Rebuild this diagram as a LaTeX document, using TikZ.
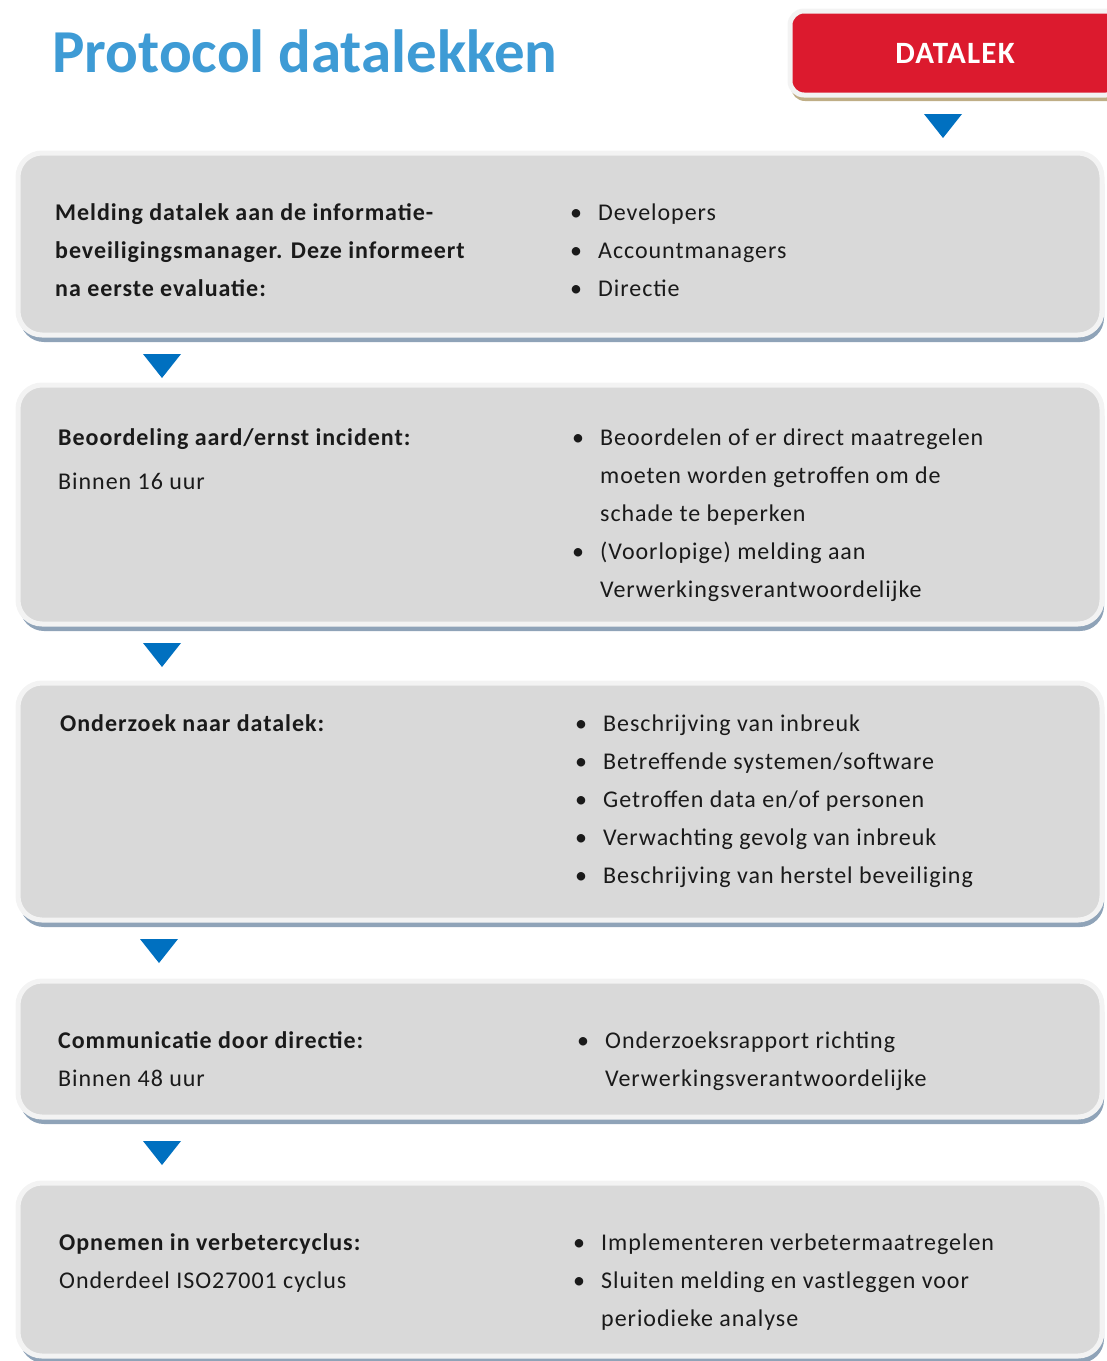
\documentclass[tikz,border=0pt]{standalone}
\usepackage{fontspec}
\setmainfont{Carlito}[LetterSpace=4]
\newfontfamily\titelfont{Carlito}
\usetikzlibrary{calc}
\usetikzlibrary{shadows}
\definecolor{titelblauw}{RGB}{62,155,213}
\definecolor{pijlblauw}{RGB}{0,112,192}
\definecolor{vakgrijs}{RGB}{217,217,217}
\definecolor{randgrijs}{RGB}{243,243,243}
\definecolor{schaduw}{RGB}{143,163,184}
\definecolor{lekrood}{RGB}{220,26,46}
\definecolor{lekrand}{RGB}{191,174,134}
\definecolor{tekst}{RGB}{26,26,26}
\newcommand*{\bx  }{560}
\newcommand*{\bw  }{1084pt}
\newcommand*{\sz  }{\fontsize{24}{38}\selectfont}
\newcommand*{\bol }{\makebox[28pt][l]{\textbullet}}
\newcommand*{\insp}{\hspace*{28pt}}

\begin{document}
\begin{tikzpicture}[x=1pt, y=-1pt,
    vak/.style={draw=randgrijs, line width=5pt, fill=vakgrijs, rounded corners=24pt,
        minimum width=\bw, inner sep=0pt,
        drop shadow={shadow xshift=2pt, shadow yshift=-7pt, fill=schaduw, opacity=1}},
    lek/.style={draw=randgrijs, line width=5pt, fill=lekrood, rounded corners=14pt,
        minimum width=330pt, minimum height=84pt, text=white,
        drop shadow={shadow xshift=1pt, shadow yshift=-6pt, fill=lekrand, opacity=1},
        font=\bfseries\fontsize{31}{31}\selectfont},
    links/.style={anchor=base west, inner sep=0pt, align=left, text=tekst, font=\sz},
    pics/pijl/.style={code={\fill[pijlblauw] (-19,-12) -- (19,-12) -- (0,12) -- cycle;}}]
    \useasboundingbox (0,0) rectangle (1107,1361);

    % titel en startvak
    \node [anchor=base west, inner sep=0pt, text=titelblauw,
           font=\titelfont\bfseries\fontsize{61}{61}\selectfont] (titel) at (52,72) {Protocol datalekken};
    \node [lek] (datalek) at (955,53) {DATALEK};
    \pic at (943,126) {pijl};

    % stappen
    \node [vak, minimum height=182pt] (melding)    at (\bx, 244.0) {};
    \node [vak, minimum height=239pt] (beoordeling) at (\bx, 504.5) {};
    \node [vak, minimum height=237pt] (onderzoek)  at (\bx, 801.5) {};
    \node [vak, minimum height=136pt] (communicatie) at (\bx,1049.0) {};
    \node [vak, minimum height=173pt] (opnemen)    at (\bx,1269.5) {};

    \pic at (162, 366) {pijl};
    \pic at (162, 655) {pijl};
    \pic at (159, 951) {pijl};
    \pic at (162,1153) {pijl};

    % teksten (base = basislijn van de laatste regel)
    \node [links, font=\sz\bfseries] (melding-l) at (55,296)
        {Melding datalek aan de informatie-\\beveiligingsmanager. Deze informeert\\na eerste evaluatie:};
    \node [links] (melding-r) at (570,296)
        {\bol Developers\\\bol Accountmanagers\\\bol Directie};

    \node [links] (beoordeling-l) at (58,489)
        {\textbf{Beoordeling aard/ernst incident:}\\[6pt]Binnen 16 uur};
    \node [links] (beoordeling-r) at (572,597)
        {\bol Beoordelen of er direct maatregelen\\\insp moeten worden getroffen om de\\\insp schade te beperken\\%
         \bol (Voorlopige) melding aan\\\insp Verwerkingsverantwoordelijke};

    \node [links, font=\sz\bfseries] (onderzoek-l) at (60,731) {Onderzoek naar datalek:};
    \node [links] (onderzoek-r) at (575,883)
        {\bol Beschrijving van inbreuk\\\bol Betreffende systemen/software\\\bol Getroffen data en/of personen\\%
         \bol Verwachting gevolg van inbreuk\\\bol Beschrijving van herstel beveiliging};

    \node [links] (communicatie-l) at (58,1086)
        {\textbf{Communicatie door directie:}\\Binnen 48 uur};
    \node [links] (communicatie-r) at (577,1086)
        {\bol Onderzoeksrapport richting\\\insp Verwerkingsverantwoordelijke};

    \node [links] (opnemen-l) at (59,1288)
        {\textbf{Opnemen in verbetercyclus:}\\Onderdeel ISO27001 cyclus};
    \node [links] (opnemen-r) at (573,1326)
        {\bol Implementeren verbetermaatregelen\\\bol Sluiten melding en vastleggen voor\\\insp periodieke analyse};
\end{tikzpicture}
\end{document}
